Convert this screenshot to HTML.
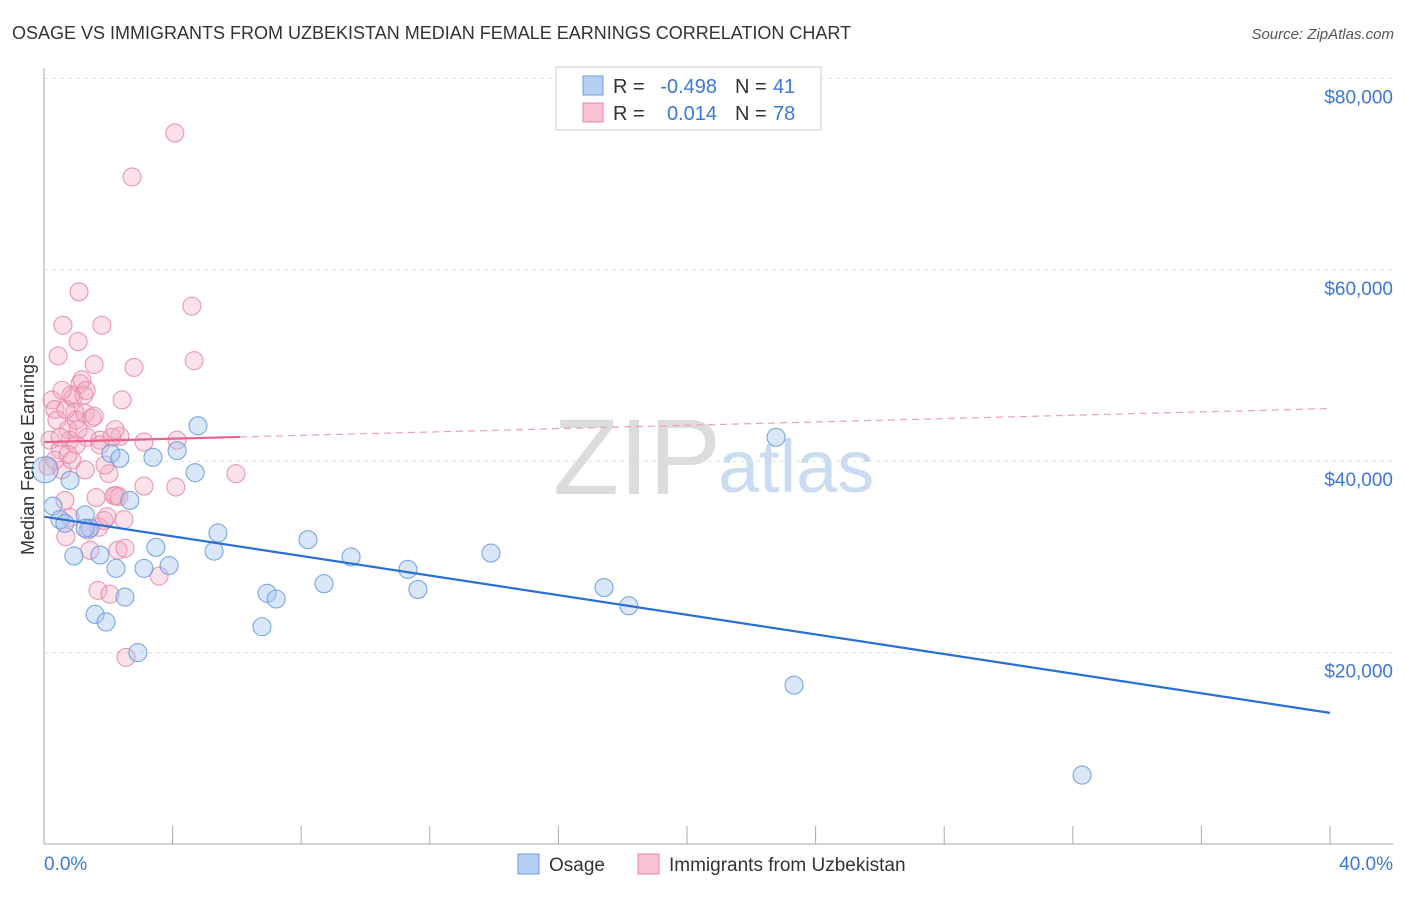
<!DOCTYPE html>
<html><head><meta charset="utf-8"><style>
body{margin:0;background:#fff;font-family:"Liberation Sans",sans-serif;}
svg text{font-family:"Liberation Sans",sans-serif;}
</style></head><body>
<svg id="c" width="1406" height="892" xmlns="http://www.w3.org/2000/svg">
<text x="12" y="39" font-size="18" fill="#333">OSAGE VS IMMIGRANTS FROM UZBEKISTAN MEDIAN FEMALE EARNINGS CORRELATION CHART</text>
<text x="1394" y="39" font-size="15" fill="#555" font-style="italic" text-anchor="end">Source: ZipAtlas.com</text>
<text x="553" y="494" font-size="108" fill="#dcdcdc" font-family="Liberation Serif">ZIP</text>
<text x="718" y="492" font-size="74" fill="#c9dcf2">atlas</text>
<g id="grid"></g><g id="pts"></g><g id="lines"></g>
<line x1="44" y1="68" x2="44" y2="844" stroke="#aaa"/>
<line x1="44" y1="844" x2="1393" y2="844" stroke="#aaa"/>
<text x="34" y="455" font-size="18" fill="#333" text-anchor="middle" transform="rotate(-90 34 455)">Median Female Earnings</text>
<text x="44" y="870" font-size="19" fill="#3b78d8">0.0%</text>
<text x="1393" y="870" font-size="19" fill="#3b78d8" text-anchor="end">40.0%</text>
<g>
<rect x="556" y="67" width="265" height="63" fill="#fff" stroke="#ccc"/>
<rect x="583" y="76" width="20" height="19" fill="#b6d0f4" stroke="#6b9de0"/>
<rect x="583" y="103" width="20" height="19" fill="#f8c3d3" stroke="#e887a6"/>
<text x="613" y="93" font-size="20" fill="#333">R =</text>
<text x="717" y="93" font-size="20" fill="#3b78d8" text-anchor="end">-0.498</text>
<text x="735" y="93" font-size="20" fill="#333">N =</text>
<text x="773" y="93" font-size="20" fill="#3b78d8">41</text>
<text x="613" y="120" font-size="20" fill="#333">R =</text>
<text x="717" y="120" font-size="20" fill="#3b78d8" text-anchor="end">0.014</text>
<text x="735" y="120" font-size="20" fill="#333">N =</text>
<text x="773" y="120" font-size="20" fill="#3b78d8">78</text>
</g>
<g>
<rect x="518" y="854" width="21" height="20" fill="#b6d0f4" stroke="#6b9de0"/>
<text x="549" y="871" font-size="19" fill="#333">Osage</text>
<rect x="638" y="854" width="21" height="20" fill="#f8c3d3" stroke="#e887a6"/>
<text x="669" y="871" font-size="19" fill="#333">Immigrants from Uzbekistan</text>
</g>
</svg>
<script>
const yTicks=[20000,40000,60000,80000];
const yTickLabels=["$20,000","$40,000","$60,000","$80,000"];
const xTicks=[0,4,8,12,16,20,24,28,32,36,40];
const osageX=[0.28,0.50,0.65,0.81,0.93,1.28,1.43,1.59,1.74,1.93,2.08,2.24,2.36,2.52,2.67,2.92,3.11,3.39,3.48,3.89,4.14,4.70,4.79,5.29,5.41,6.78,6.94,7.22,8.21,8.71,9.55,11.32,11.63,13.90,17.42,18.19,22.77,23.33,32.29,0.03,1.28];
const osageY=[35.3,33.9,33.5,38.0,30.1,34.4,33.0,24.0,30.2,23.2,40.8,28.8,40.3,25.8,35.9,20.0,28.8,40.4,31.0,29.1,41.1,38.8,43.7,30.6,32.5,22.7,26.2,25.6,31.8,27.2,30.0,28.7,26.6,30.4,26.8,24.9,42.5,16.6,7.2,39.1,33.0];
const uzbX=[0.12,0.19,0.25,0.34,0.40,0.44,0.50,0.56,0.59,0.65,0.68,0.75,0.81,0.87,0.90,0.96,1.00,1.06,1.09,1.12,1.18,1.24,1.28,1.34,1.37,1.43,1.49,1.56,1.62,1.68,1.71,1.74,1.80,1.87,1.96,2.02,2.05,2.18,2.24,2.30,2.36,2.43,2.49,2.52,2.55,2.74,2.80,3.11,3.11,3.58,4.07,4.10,4.14,4.60,4.67,5.97,0.68,0.84,1.31,1.74,1.00,0.34,0.50,0.75,1.90,2.11,2.33,1.56,2.21,1.28,0.56,0.81,1.06];
const uzbY=[39.5,42.2,46.4,45.4,44.3,51.0,41.2,39.1,54.2,35.9,32.1,43.3,42.2,40.1,46.6,45.1,44.3,52.5,57.7,48.1,48.5,46.9,45.0,42.5,32.8,30.7,44.5,44.7,36.2,26.5,33.1,42.2,54.2,33.8,34.2,38.7,26.1,36.4,36.4,30.7,42.6,46.4,33.9,30.9,19.5,69.7,49.8,37.4,42.0,28.0,74.3,37.3,42.2,56.2,50.5,38.7,45.4,46.9,47.4,41.7,41.7,40.1,42.5,40.7,39.6,42.5,36.3,50.1,43.3,39.1,47.4,34.1,43.3];
const osageTrend=[34.2,13.7];
const uzbTrend=[42.0,45.5];
const uzbSolidEnd=6.1;
const NS="http://www.w3.org/2000/svg";
const sx=v=>44+v/40*1286;
const sy=v=>844-v*9.57;
function mk(t,a,p){const e=document.createElementNS(NS,t);for(const k in a)e.setAttribute(k,a[k]);p.appendChild(e);return e;}
const grid=document.getElementById('grid');
yTicks.forEach((t,i)=>{
 const l=mk('line',{x1:44,x2:1393,y1:sy(t/1000),y2:sy(t/1000),stroke:'#e0e0e0','stroke-dasharray':'4,4'},grid);
 
 
 const tx=mk('text',{x:1393,y:sy(t/1000)+25,'font-size':19,fill:'#3b78d8','text-anchor':'end'},grid);
 tx.textContent=yTickLabels[i];
 
 
});
xTicks.forEach(t=>{
 const l=mk('line',{x1:sx(t),x2:sx(t),y1:826,y2:844,stroke:'#aaa'},grid);
 
 
});
const pts=document.getElementById('pts');
uzbX.forEach((x,i)=>{
 const c=mk('circle',{cx:sx(x),cy:sy(uzbY[i]),r:9,fill:'rgba(244,170,195,0.35)',stroke:'rgba(232,135,166,0.85)','stroke-width':1.1},pts);
 
 
});
osageX.forEach((x,i)=>{
 const c=mk('circle',{cx:sx(x),cy:sy(osageY[i]),r:i==39?13:9,fill:'rgba(160,195,240,0.4)',stroke:'rgba(107,157,224,0.9)','stroke-width':1.1},pts);
 
 
});
const ln=document.getElementById('lines');
const ob=mk('line',{x1:sx(0),y1:sy(osageTrend[0]),x2:sx(40),y2:sy(osageTrend[1]),stroke:'#2a6fd6','stroke-width':2.2},ln);


const ue=uzbTrend[0]+(uzbTrend[1]-uzbTrend[0])*uzbSolidEnd/40;
const us=mk('line',{x1:sx(0),y1:sy(uzbTrend[0]),x2:sx(uzbSolidEnd),y2:sy(ue),stroke:'#e8628c','stroke-width':2.2},ln);


const ud=mk('line',{x1:sx(uzbSolidEnd),y1:sy(ue),x2:sx(40),y2:sy(uzbTrend[1]),stroke:'#e8a0b8','stroke-width':1.2,'stroke-dasharray':'7,5'},ln);


</script>
</body></html>
